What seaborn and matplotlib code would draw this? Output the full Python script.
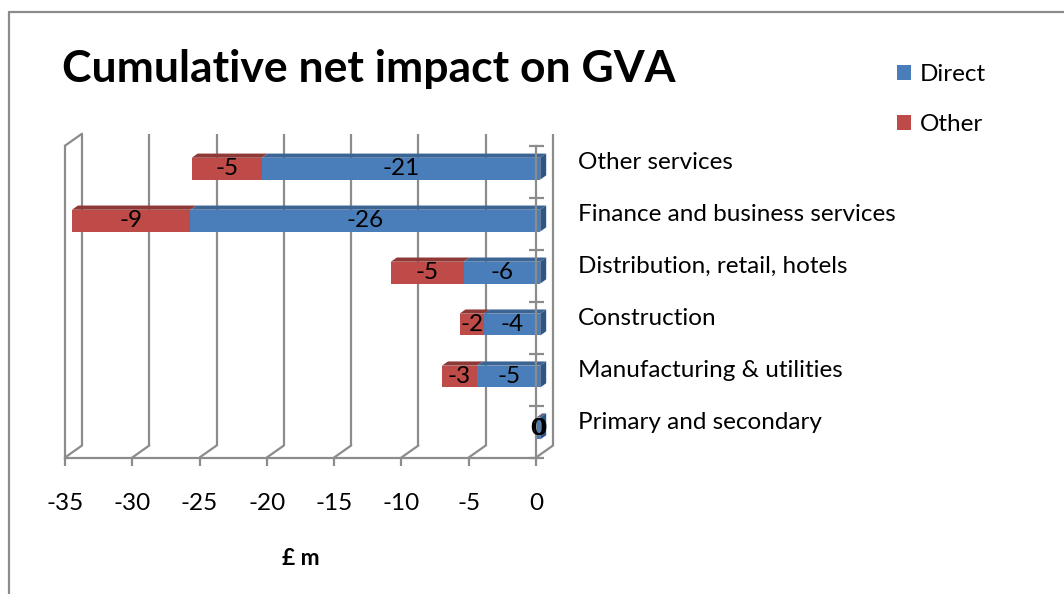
import matplotlib
matplotlib.use("Agg")
import numpy as np
import pandas as pd
import matplotlib.pyplot as plt
from matplotlib.patches import Polygon, Patch
from matplotlib.lines import Line2D
import seaborn as sns

# GVA impact by sector, £ m
categories = [
    "Other services",
    "Finance and business services",
    "Distribution, retail, hotels",
    "Construction",
    "Manufacturing & utilities",
    "Primary and secondary",
]
direct = [-20.7, -26.0, -5.7, -4.2, -4.7, -0.2]
other = [-5.2, -8.8, -5.4, -1.8, -2.6, -0.1]
x_ticks = [-35, -30, -25, -20, -15, -10, -5, 0]
series_names = ["Direct", "Other"]

sns.set_theme(style="white")
plt.rcParams["font.family"] = ["Lato", "DejaVu Sans"]
plt.rcParams["axes.unicode_minus"] = False
plt.rcParams["text.color"] = "black"

W, H = 1064, 594
fig = plt.figure(figsize=(W / 100, H / 100), dpi=100)
fig.patch.set_facecolor("white")

FS = 17.5

# front plane of the 3-D box, in pixels
ax_l, ax_r, ax_t, ax_b = 65, 536, 145.7, 457.5
ax = fig.add_axes([ax_l / W, 1 - ax_b / H, (ax_r - ax_l) / W, (ax_b - ax_t) / H])
ax.set_facecolor("none")

XMIN, XMAX = x_ticks[0], x_ticks[-1]
n = len(categories)
px_x = (ax_r - ax_l) / (XMAX - XMIN)
px_y = (ax_b - ax_t) / n
DX = 17 / px_x          # depth vector in data units
DY = -12 / px_y
F1, F2 = 0.25, 0.6      # front / back depth of the bars
BAR_H = 0.42

BLUE, BLUE_TOP, BLUE_SIDE = "#4a7ebb", "#3b6594", "#2f5584"
RED, RED_TOP = "#be4b48", "#8f3937"
GRID = "#8c8c8c"
LW = 1.6

totals = [d + o for d, o in zip(direct, other)]
df = pd.DataFrame({"category": categories, "direct": direct, "total": totals})

sns.barplot(data=df, x="total", y="category", color=RED, saturation=1,
            width=BAR_H, orient="h", errorbar=None, linewidth=0, ax=ax, zorder=3)
sns.barplot(data=df, x="direct", y="category", color=BLUE, saturation=1,
            width=BAR_H, orient="h", errorbar=None, linewidth=0, ax=ax, zorder=3)

# push the bar fronts back into the box
for p in ax.patches:
    p.set_x(p.get_x() + F1 * DX)
    p.set_y(p.get_y() + F1 * DY)
    p.set_clip_on(False)


def face(x0, x1, y):
    return [(x0 + F1 * DX, y + F1 * DY), (x1 + F1 * DX, y + F1 * DY),
            (x1 + F2 * DX, y + F2 * DY), (x0 + F2 * DX, y + F2 * DY)]


for i in range(n):
    yt = i - BAR_H / 2
    yb = i + BAR_H / 2
    ax.add_patch(Polygon(face(totals[i], direct[i], yt), closed=True,
                         facecolor=RED_TOP, edgecolor="none", zorder=3, clip_on=False))
    ax.add_patch(Polygon(face(direct[i], 0, yt), closed=True,
                         facecolor=BLUE_TOP, edgecolor="none", zorder=3, clip_on=False))
    side = [(F1 * DX, yt + F1 * DY), (F1 * DX, yb + F1 * DY),
            (F2 * DX, yb + F2 * DY), (F2 * DX, yt + F2 * DY)]
    ax.add_patch(Polygon(side, closed=True, facecolor=BLUE_SIDE,
                         edgecolor="none", zorder=3, clip_on=False))
    # value labels on the front faces
    ax.text(direct[i] / 2 + F1 * DX, i + F1 * DY, f"{int(round(direct[i]))}",
            ha="center", va="center", fontsize=FS, color="black", zorder=6)
    ax.text(direct[i] + other[i] / 2 + F1 * DX, i + F1 * DY, f"{int(round(other[i]))}",
            ha="center", va="center", fontsize=FS, color="black", zorder=6)

# back wall gridlines and floor diagonals
for x in x_ticks:
    ax.plot([x + DX, x + DX], [n - 0.5 + DY, -0.5 + DY], color=GRID, lw=LW,
            clip_on=False, zorder=1, solid_capstyle="butt")
    ax.plot([x, x + DX], [n - 0.5, n - 0.5 + DY], color=GRID, lw=LW,
            clip_on=False, zorder=1)
ax.plot([XMIN, XMIN + DX], [-0.5, -0.5 + DY], color=GRID, lw=LW, clip_on=False, zorder=1)

ax.set_xlim(XMIN, XMAX)
ax.set_ylim(n - 0.5, -0.5)

ax.spines["top"].set_visible(False)
for s in ["left", "bottom", "right"]:
    ax.spines[s].set_visible(True)
    ax.spines[s].set_color(GRID)
    ax.spines[s].set_linewidth(LW)
ax.spines["right"].set_zorder(5)

ax.set_xticks(x_ticks)
ax.set_xticklabels([str(t) for t in x_ticks])
ax.tick_params(axis="x", direction="out", length=5.8, width=LW, color=GRID,
               pad=20, labelsize=FS, labelcolor="black", bottom=True)

ax.yaxis.tick_right()
ax.set_yticks(range(n))
ax.set_yticklabels([])
ax.tick_params(axis="y", which="major", length=0, right=False, left=False)
ax.set_yticks(np.arange(-0.5, n), minor=True)
ax.tick_params(axis="y", which="minor", direction="inout", length=10.8, width=LW,
               color=GRID, right=True, left=False)

ax.set_ylabel("")
ax.set_xlabel("£ m", fontsize=16.5, fontweight="bold", labelpad=24, color="black")

for i, cat in enumerate(categories):
    ax.text(XMAX + 42 / px_x, i + DY + 3 / px_y, cat, ha="left", va="center",
            fontsize=FS, color="black", clip_on=False)

fig.text(62 / W, 1 - 69 / H, "Cumulative net impact on GVA", ha="left", va="center",
         fontsize=32, fontweight="bold", color="black")

handles = [Patch(facecolor=BLUE, edgecolor="none"), Patch(facecolor=RED, edgecolor="none")]
fig.legend(handles, series_names, loc="upper left",
           bbox_to_anchor=(897 / W, 1 - 64 / H), frameon=False, fontsize=FS,
           handlelength=0.58, handleheight=0.58, handletextpad=0.35,
           labelspacing=1.2, borderpad=0, borderaxespad=0)

# chart area border
fig.add_artist(Line2D([9 / W, 9 / W], [0, 1 - 12 / H], transform=fig.transFigure,
                      color=GRID, lw=LW))
fig.add_artist(Line2D([9 / W, 1], [1 - 12 / H, 1 - 12 / H], transform=fig.transFigure,
                      color=GRID, lw=LW))

fig.savefig("out.png", dpi=100, facecolor="white")
